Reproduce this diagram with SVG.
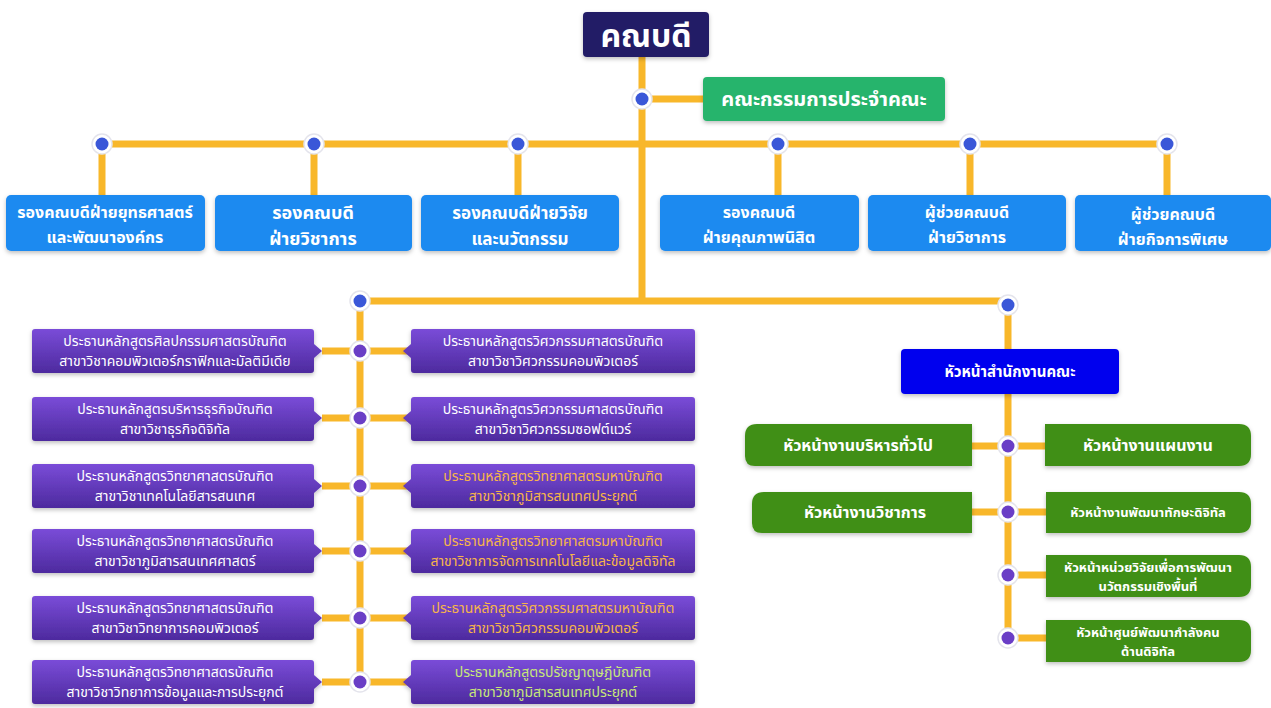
<svg xmlns="http://www.w3.org/2000/svg" width="1271" height="708" viewBox="0 0 1271 708">
<defs>
<linearGradient id="pg" x1="0" y1="0" x2="0" y2="1"><stop offset="0" stop-color="#7a4cd8"/><stop offset="1" stop-color="#4d2a9e"/></linearGradient>
<filter id="sh" x="-10%" y="-20%" width="120%" height="150%"><feDropShadow dx="0" dy="2" stdDeviation="2" flood-color="#000" flood-opacity="0.25"/></filter>
</defs>
<style>
text{font-family:"Noto Sans Thai","Noto Sans","DejaVu Sans",sans-serif;text-anchor:middle;fill:#fff}
.b{font-weight:bold}
.ln{stroke:#f8b72a;stroke-width:7;fill:none}
.dotO{fill:#fff;stroke:#e4e4ec;stroke-width:1.5}
.dB{fill:#3a57d8}
.dP{fill:#6a3ec6}
.blue{fill:#1f8af0}
.pur{fill:url(#pg)}
.grn{fill:#3f8f14}
.t16{font-size:16px}
.t13{font-size:13px}
.t14{font-size:14px}
.or{fill:#f7b54a}
.lg{fill:#c8e878}
</style>
<rect width="1271" height="708" fill="#fff"/>
<g id="connectors">
<path class="ln" d="M642 57V301M642 99H703M102 144H1167M102 144V195M314 144V195M518 144V195M778 144V195M970 144V195M1167 144V195M360 301H1008M360 301V684M1008 305V638"/>
<path class="ln" d="M322 351H411M322 418H411M322 486H411M322 551H411M322 618H411M322 682H411"/>
<path class="ln" d="M972 446H1045M972 512H1046M1008 575H1046M1008 638H1046"/>
</g>
<g id="dots">
<g class="dotO"><circle cx="642" cy="99" r="10"/><circle cx="102" cy="144" r="10"/><circle cx="314" cy="144" r="10"/><circle cx="518" cy="144" r="10"/><circle cx="778" cy="144" r="10"/><circle cx="970" cy="144" r="10"/><circle cx="1167" cy="144" r="10"/><circle cx="360" cy="301" r="10"/><circle cx="1008" cy="305" r="10"/>
<circle cx="360" cy="351" r="10"/><circle cx="360" cy="418" r="10"/><circle cx="360" cy="486" r="10"/><circle cx="360" cy="551" r="10"/><circle cx="360" cy="618" r="10"/><circle cx="360" cy="682" r="10"/>
<circle cx="1008" cy="446" r="10"/><circle cx="1008" cy="512" r="10"/><circle cx="1008" cy="575" r="10"/><circle cx="1008" cy="638" r="10"/></g>
<g class="dB"><circle cx="642" cy="99" r="6.5"/><circle cx="102" cy="144" r="6.5"/><circle cx="314" cy="144" r="6.5"/><circle cx="518" cy="144" r="6.5"/><circle cx="778" cy="144" r="6.5"/><circle cx="970" cy="144" r="6.5"/><circle cx="1167" cy="144" r="6.5"/><circle cx="360" cy="301" r="6.5"/><circle cx="1008" cy="305" r="6.5"/></g>
<g class="dP"><circle cx="360" cy="351" r="6.5"/><circle cx="360" cy="418" r="6.5"/><circle cx="360" cy="486" r="6.5"/><circle cx="360" cy="551" r="6.5"/><circle cx="360" cy="618" r="6.5"/><circle cx="360" cy="682" r="6.5"/>
<circle cx="1008" cy="446" r="6.5"/><circle cx="1008" cy="512" r="6.5"/><circle cx="1008" cy="575" r="6.5"/><circle cx="1008" cy="638" r="6.5"/></g>
</g>
<g id="dean"><rect x="583" y="12" width="126" height="45" rx="4" fill="#221d66" filter="url(#sh)"/><text class="b" x="646" y="47" font-size="32">คณบดี</text></g>
<g id="committee"><rect x="703" y="77" width="242" height="44" rx="4" fill="#27b46c" filter="url(#sh)"/><text class="b" x="824" y="106" font-size="20">คณะกรรมการประจำคณะ</text></g>

<g id="vp1"><rect class="blue" x="6" y="195" width="199" height="56" rx="5" filter="url(#sh)"/><text class="b t16" x="105" y="218">รองคณบดีฝ่ายยุทธศาสตร์</text><text class="b t16" x="105" y="243">และพัฒนาองค์กร</text></g>
<g id="vp2"><rect class="blue" x="215" y="195" width="197" height="56" rx="5" filter="url(#sh)"/><text class="b" font-size="18" x="313" y="219">รองคณบดี</text><text class="b" font-size="18" x="313" y="245">ฝ่ายวิชาการ</text></g>
<g id="vp3"><rect class="blue" x="421" y="195" width="198" height="56" rx="5" filter="url(#sh)"/><text class="b" font-size="17" x="520" y="219">รองคณบดีฝ่ายวิจัย</text><text class="b" font-size="17" x="520" y="245">และนวัตกรรม</text></g>
<g id="vp4"><rect class="blue" x="660" y="195" width="199" height="56" rx="5" filter="url(#sh)"/><text class="b t16" x="759" y="218">รองคณบดี</text><text class="b t16" x="759" y="243">ฝ่ายคุณภาพนิสิต</text></g>
<g id="ast1"><rect class="blue" x="868" y="195" width="198" height="56" rx="5" filter="url(#sh)"/><text class="b t16" x="967" y="218">ผู้ช่วยคณบดี</text><text class="b t16" x="967" y="243">ฝ่ายวิชาการ</text></g>
<g id="ast2"><rect class="blue" x="1075" y="195" width="196" height="56" rx="5" filter="url(#sh)"/><text class="b t16" x="1173" y="220">ผู้ช่วยคณบดี</text><text class="b t16" x="1173" y="245">ฝ่ายกิจการพิเศษ</text></g>

<g id="L1"><path class="pur" filter="url(#sh)" d="M35 329H311Q314 329 314 332V344L322 351L314 358V370Q314 373 311 373H35Q32 373 32 370V332Q32 329 35 329Z"/><text class="t14" x="175" y="346">ประธานหลักสูตรศิลปกรรมศาสตรบัณฑิต</text><text class="t14" x="175" y="366">สาขาวิชาคอมพิวเตอร์กราฟิกและมัลติมีเดีย</text></g>
<g id="L2"><path class="pur" filter="url(#sh)" d="M35 397H311Q314 397 314 400V411L322 418L314 425V438Q314 441 311 441H35Q32 441 32 438V400Q32 397 35 397Z"/><text class="t14" x="175" y="414">ประธานหลักสูตรบริหารธุรกิจบัณฑิต</text><text class="t14" x="175" y="434">สาขาวิชาธุรกิจดิจิทัล</text></g>
<g id="L3"><path class="pur" filter="url(#sh)" d="M35 464H311Q314 464 314 467V479L322 486L314 493V505Q314 508 311 508H35Q32 508 32 505V467Q32 464 35 464Z"/><text class="t14" x="175" y="481">ประธานหลักสูตรวิทยาศาสตรบัณฑิต</text><text class="t14" x="175" y="501">สาขาวิชาเทคโนโลยีสารสนเทศ</text></g>
<g id="L4"><path class="pur" filter="url(#sh)" d="M35 529H311Q314 529 314 532V544L322 551L314 558V570Q314 573 311 573H35Q32 573 32 570V532Q32 529 35 529Z"/><text class="t14" x="175" y="546">ประธานหลักสูตรวิทยาศาสตรบัณฑิต</text><text class="t14" x="175" y="566">สาขาวิชาภูมิสารสนเทศศาสตร์</text></g>
<g id="L5"><path class="pur" filter="url(#sh)" d="M35 596H311Q314 596 314 599V611L322 618L314 625V637Q314 640 311 640H35Q32 640 32 637V599Q32 596 35 596Z"/><text class="t14" x="175" y="613">ประธานหลักสูตรวิทยาศาสตรบัณฑิต</text><text class="t14" x="175" y="633">สาขาวิชาวิทยาการคอมพิวเตอร์</text></g>
<g id="L6"><path class="pur" filter="url(#sh)" d="M35 660H311Q314 660 314 663V675L322 682L314 689V701Q314 704 311 704H35Q32 704 32 701V663Q32 660 35 660Z"/><text class="t14" x="175" y="677">ประธานหลักสูตรวิทยาศาสตรบัณฑิต</text><text class="t14" x="175" y="697">สาขาวิชาวิทยาการข้อมูลและการประยุกต์</text></g>

<g id="R1"><path class="pur" filter="url(#sh)" d="M414 329H692Q695 329 695 332V370Q695 373 692 373H414Q411 373 411 370V358L403 351L411 344V332Q411 329 414 329Z"/><text class="t14" x="553" y="346">ประธานหลักสูตรวิศวกรรมศาสตรบัณฑิต</text><text class="t14" x="553" y="366">สาขาวิชาวิศวกรรมคอมพิวเตอร์</text></g>
<g id="R2"><path class="pur" filter="url(#sh)" d="M414 397H692Q695 397 695 400V438Q695 441 692 441H414Q411 441 411 438V425L403 418L411 411V400Q411 397 414 397Z"/><text class="t14" x="553" y="414">ประธานหลักสูตรวิศวกรรมศาสตรบัณฑิต</text><text class="t14" x="553" y="434">สาขาวิชาวิศวกรรมซอฟต์แวร์</text></g>
<g id="R3"><path class="pur" filter="url(#sh)" d="M414 464H692Q695 464 695 467V505Q695 508 692 508H414Q411 508 411 505V493L403 486L411 479V467Q411 464 414 464Z"/><text class="t14 or" x="553" y="481">ประธานหลักสูตรวิทยาศาสตรมหาบัณฑิต</text><text class="t14 or" x="553" y="501">สาขาวิชาภูมิสารสนเทศประยุกต์</text></g>
<g id="R4"><path class="pur" filter="url(#sh)" d="M414 529H692Q695 529 695 532V570Q695 573 692 573H414Q411 573 411 570V558L403 551L411 544V532Q411 529 414 529Z"/><text class="t14 or" x="553" y="546">ประธานหลักสูตรวิทยาศาสตรมหาบัณฑิต</text><text class="t14 or" x="553" y="566">สาขาวิชาการจัดการเทคโนโลยีและข้อมูลดิจิทัล</text></g>
<g id="R5"><path class="pur" filter="url(#sh)" d="M414 596H692Q695 596 695 599V637Q695 640 692 640H414Q411 640 411 637V625L403 618L411 611V599Q411 596 414 596Z"/><text class="t14 or" x="553" y="613">ประธานหลักสูตรวิศวกรรมศาสตรมหาบัณฑิต</text><text class="t14 or" x="553" y="633">สาขาวิชาวิศวกรรมคอมพิวเตอร์</text></g>
<g id="R6"><path class="pur" filter="url(#sh)" d="M414 660H692Q695 660 695 663V701Q695 704 692 704H414Q411 704 411 701V689L403 682L411 675V663Q411 660 414 660Z"/><text class="t14 lg" x="553" y="677">ประธานหลักสูตรปรัชญาดุษฎีบัณฑิต</text><text class="t14 lg" x="553" y="697">สาขาวิชาภูมิสารสนเทศประยุกต์</text></g>

<g id="office"><rect x="901" y="349" width="218" height="45" rx="4" fill="#0000ee" filter="url(#sh)"/><text class="b" font-size="15" x="1010" y="377">หัวหน้าสำนักงานคณะ</text></g>
<g id="G1"><path class="grn" filter="url(#sh)" d="M972 424V466H755Q745 466 745 456V436Q745 424 757 424Z"/><text class="b t16" x="858" y="451">หัวหน้างานบริหารทั่วไป</text></g>
<g id="G2"><path class="grn" filter="url(#sh)" d="M1045 424H1239Q1251 424 1251 436V454Q1251 466 1239 466H1045Z"/><text class="b t16" x="1148" y="451">หัวหน้างานแผนงาน</text></g>
<g id="G3"><path class="grn" filter="url(#sh)" d="M972 492V533H762Q752 533 752 523V504Q752 492 764 492Z"/><text class="b t16" x="865" y="518">หัวหน้างานวิชาการ</text></g>
<g id="G4"><path class="grn" filter="url(#sh)" d="M1046 492H1239Q1251 492 1251 504V521Q1251 533 1239 533H1046Z"/><text class="b" font-size="13" x="1148" y="517">หัวหน้างานพัฒนาทักษะดิจิทัล</text></g>
<g id="G5"><path class="grn" filter="url(#sh)" d="M1046 555H1239Q1251 555 1251 567V585Q1251 597 1239 597H1046Z"/><text class="b" font-size="13" x="1148" y="572">หัวหน้าหน่วยวิจัยเพื่อการพัฒนา</text><text class="b" font-size="13" x="1148" y="591">นวัตกรรมเชิงพื้นที่</text></g>
<g id="G6"><path class="grn" filter="url(#sh)" d="M1046 620H1239Q1251 620 1251 632V650Q1251 662 1239 662H1046Z"/><text class="b" font-size="13" x="1148" y="637">หัวหน้าศูนย์พัฒนากำลังคน</text><text class="b" font-size="13" x="1148" y="656">ด้านดิจิทัล</text></g>
</svg>
